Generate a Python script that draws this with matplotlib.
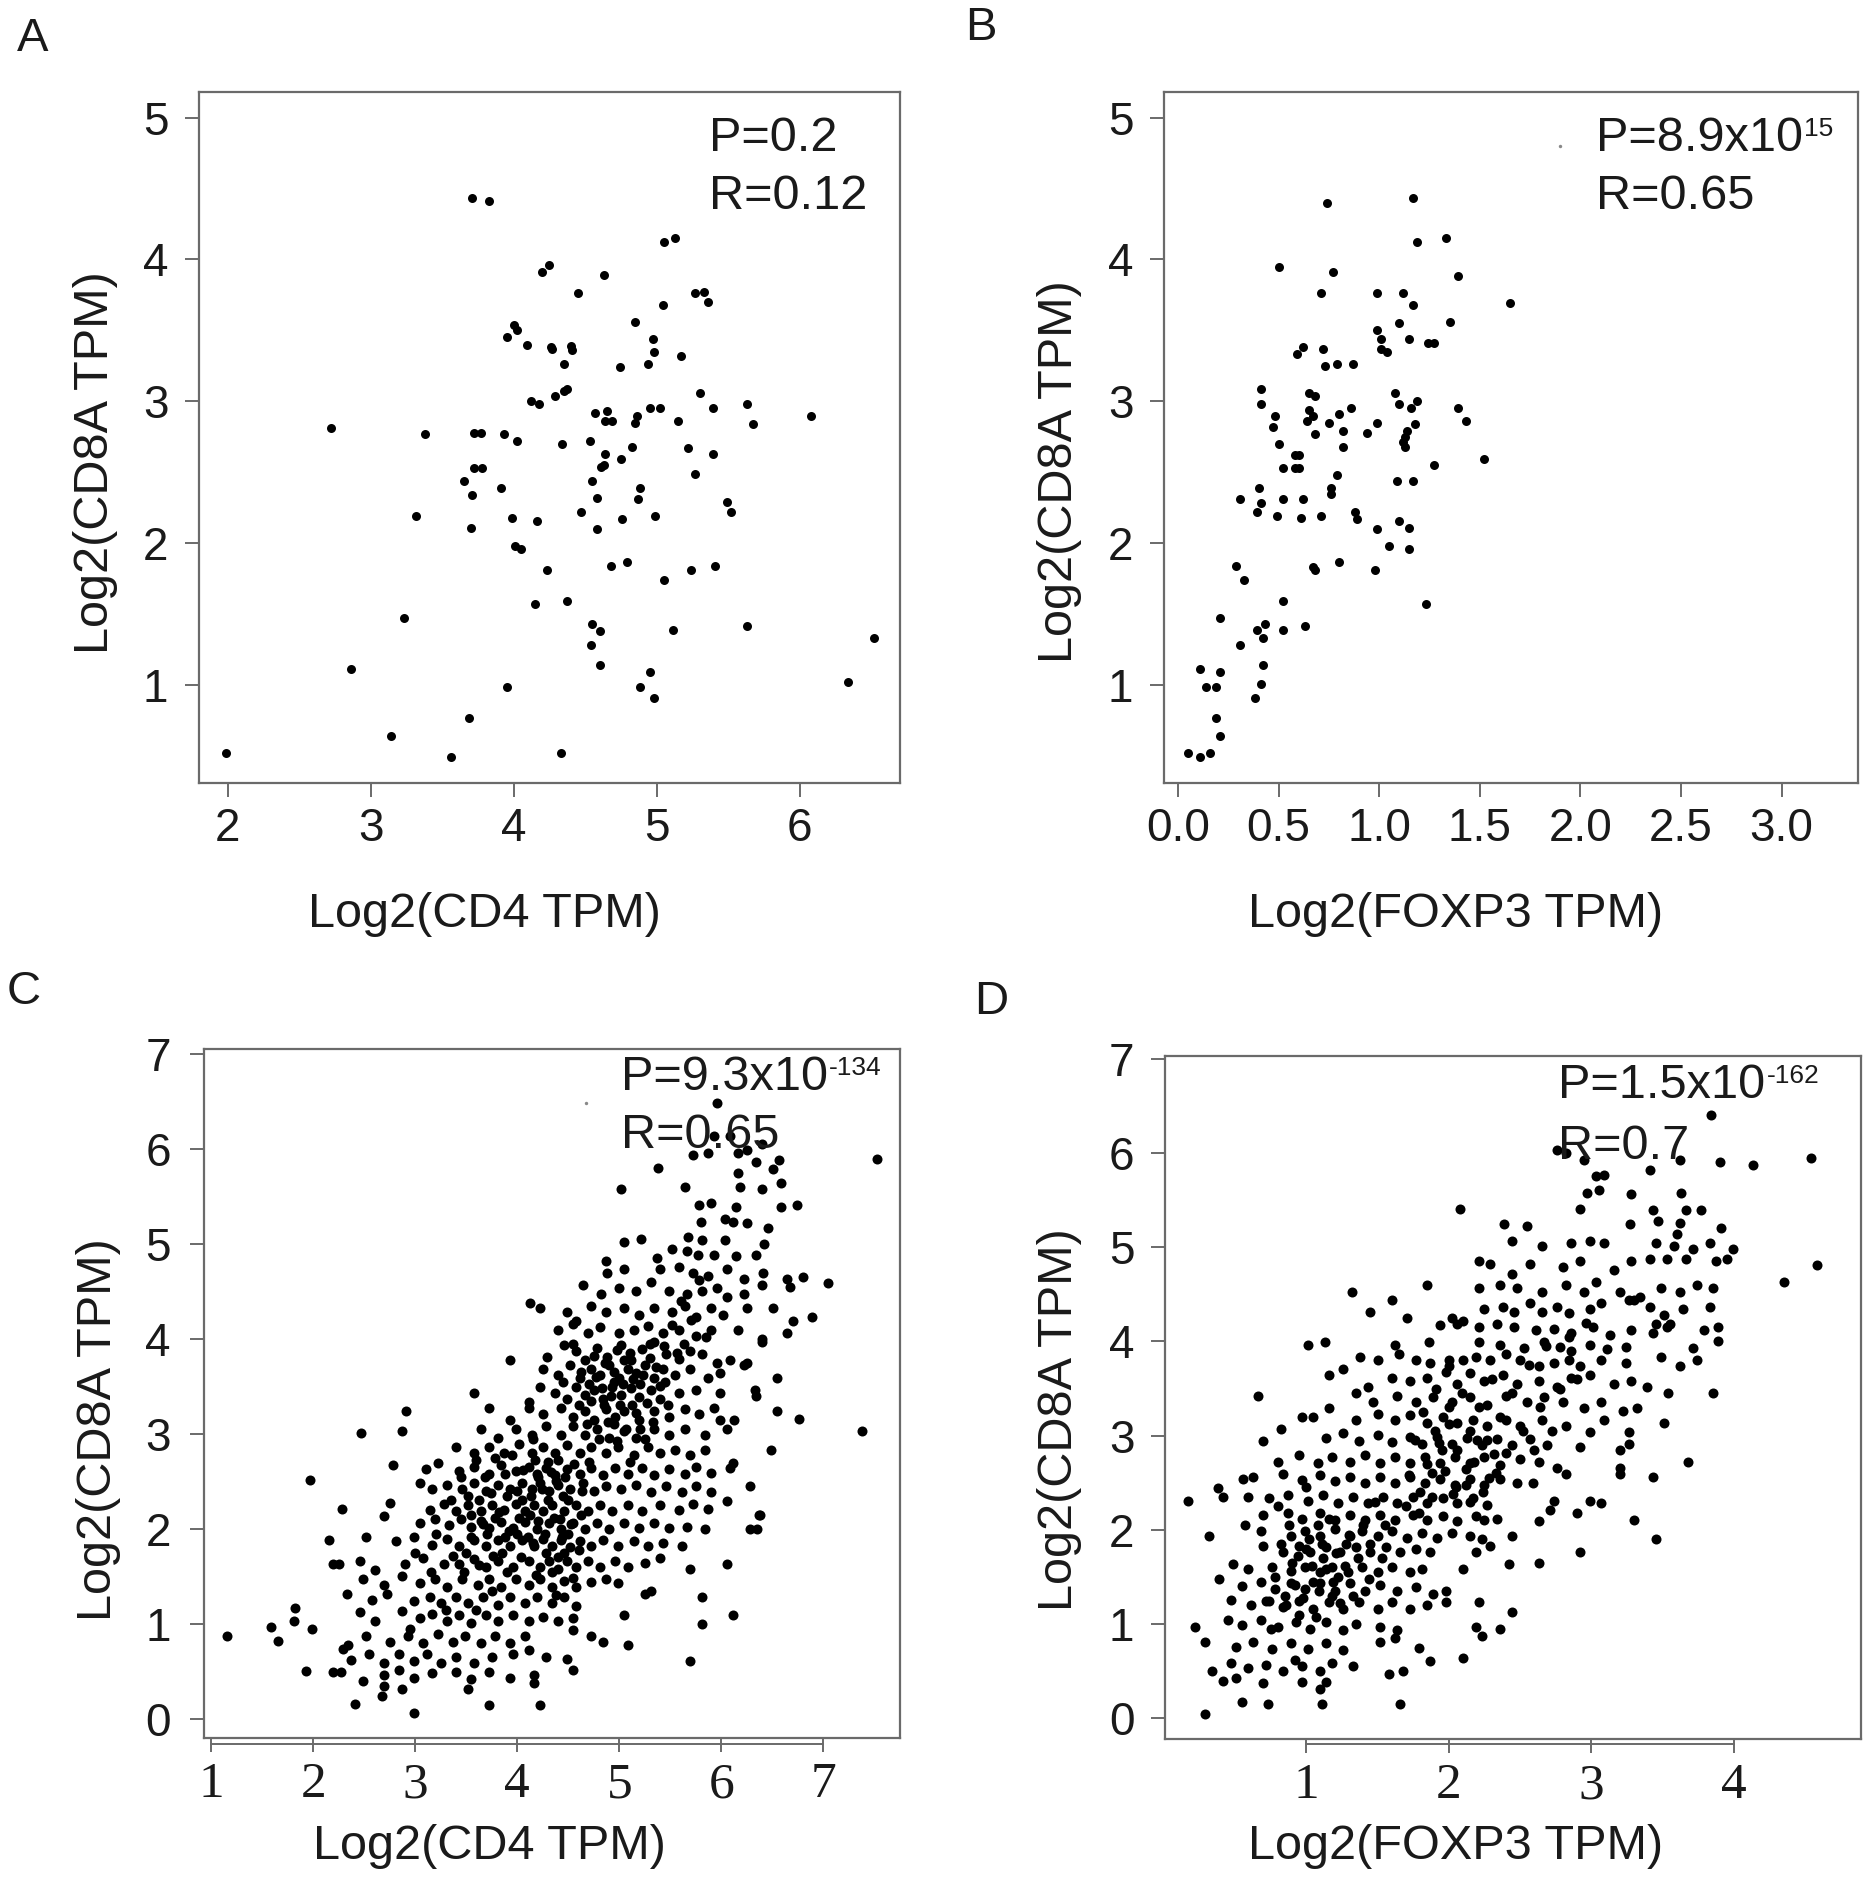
import numpy as np
import matplotlib
matplotlib.use('Agg')
import matplotlib.pyplot as plt
from matplotlib.ticker import FormatStrFormatter

plt.rcParams['font.family'] = ['Liberation Sans', 'DejaVu Sans']

W, H = 1873, 1893

# ---- data ----
# A: CD4 vs CD8A, small cohort
panel_a_points = np.array([
    (1.99, 0.52), (2.72, 2.81), (2.86, 1.11), (3.14, 0.64), (3.23, 1.47), (3.32, 2.19),
    (3.38, 2.77), (3.56, 0.49), (3.65, 2.44), (3.69, 0.77), (3.70, 2.11), (3.71, 2.34),
    (3.71, 4.43), (3.83, 4.41), (3.72, 2.78), (3.77, 2.78), (3.72, 2.53), (3.78, 2.53),
    (3.93, 2.77), (3.91, 2.39), (3.95, 0.99), (3.95, 3.45), (4.00, 3.54), (4.02, 3.50),
    (4.02, 2.72), (3.99, 2.18), (4.01, 1.98), (4.05, 1.96), (4.09, 3.40), (4.12, 3.00),
    (4.18, 2.98), (4.16, 2.16), (4.15, 1.57), (4.20, 3.91), (4.25, 3.96), (4.23, 1.81),
    (4.26, 3.38), (4.27, 3.37), (4.29, 3.04), (4.35, 3.07), (4.37, 3.09), (4.35, 3.26),
    (4.34, 2.70), (4.40, 3.39), (4.41, 3.36), (4.37, 1.59), (4.33, 0.52), (4.45, 3.76),
    (4.47, 2.22), (4.53, 2.72), (4.55, 2.44), (4.55, 1.43), (4.54, 1.28), (4.60, 1.38),
    (4.57, 2.92), (4.58, 2.32), (4.58, 2.10), (4.60, 1.14), (4.61, 2.54), (4.63, 2.55),
    (4.63, 3.89), (4.64, 2.86), (4.64, 2.63), (4.65, 2.93), (4.69, 2.86), (4.68, 1.84),
    (4.74, 3.24), (4.75, 2.59), (4.76, 2.17), (4.79, 1.87), (4.83, 2.68), (4.85, 3.56),
    (4.85, 2.85), (4.86, 2.90), (4.88, 2.39), (4.87, 2.31), (4.88, 0.99), (4.94, 3.26),
    (4.95, 1.09), (4.95, 2.95), (4.97, 3.44), (4.98, 3.35), (4.99, 2.19), (4.98, 0.91),
    (5.02, 2.95), (5.04, 3.68), (5.05, 4.12), (5.05, 1.74), (5.13, 4.15), (5.11, 1.39),
    (5.15, 2.86), (5.17, 3.32), (5.22, 2.67), (5.24, 1.81), (5.27, 3.76), (5.33, 3.77),
    (5.36, 3.70), (5.27, 2.49), (5.30, 3.06), (5.39, 2.95), (5.39, 2.63), (5.41, 1.84),
    (5.49, 2.29), (5.52, 2.22), (5.63, 2.98), (5.67, 2.84), (5.63, 1.42), (6.08, 2.90),
    (6.34, 1.02), (6.52, 1.33),
])

# B: FOXP3 vs CD8A, small cohort
panel_b_points = np.array([
    (0.05, 0.52), (0.11, 0.49), (0.16, 0.52), (0.11, 1.11), (0.14, 0.99), (0.19, 0.99),
    (0.21, 1.09), (0.19, 0.77), (0.21, 0.64), (0.21, 1.47), (0.29, 1.84), (0.33, 1.74),
    (0.31, 2.31), (0.31, 1.28), (0.38, 0.91), (0.39, 1.39), (0.41, 1.01), (0.42, 1.14),
    (0.42, 1.33), (0.43, 1.43), (0.39, 2.22), (0.40, 2.39), (0.41, 2.28), (0.41, 3.09),
    (0.41, 2.98), (0.50, 3.95), (0.48, 2.90), (0.47, 2.82), (0.50, 2.70), (0.49, 2.19),
    (0.52, 2.31), (0.52, 2.53), (0.52, 1.59), (0.52, 1.39), (0.59, 3.33), (0.62, 3.38),
    (0.58, 2.62), (0.60, 2.62), (0.58, 2.53), (0.60, 2.53), (0.62, 2.31), (0.61, 2.18),
    (0.63, 1.42), (0.64, 2.86), (0.65, 2.94), (0.65, 3.06), (0.68, 3.04), (0.67, 2.90),
    (0.68, 2.77), (0.67, 1.83), (0.68, 1.81), (0.71, 2.19), (0.71, 3.76), (0.72, 3.37),
    (0.73, 3.25), (0.74, 4.40), (0.76, 2.39), (0.76, 2.35), (0.75, 2.85), (0.77, 3.91),
    (0.79, 3.26), (0.79, 2.48), (0.80, 2.91), (0.80, 1.87), (0.82, 2.68), (0.82, 2.79),
    (0.87, 3.26), (0.86, 2.95), (0.88, 2.22), (0.89, 2.17), (0.94, 2.78), (0.98, 1.81),
    (0.99, 2.85), (0.99, 3.76), (0.99, 3.50), (0.99, 2.10), (1.01, 3.44), (1.01, 3.37),
    (1.04, 3.35), (1.05, 1.98), (1.08, 3.06), (1.10, 3.55), (1.10, 2.98), (1.09, 2.44),
    (1.10, 2.16), (1.12, 3.76), (1.12, 2.71), (1.13, 2.68), (1.13, 2.75), (1.14, 2.79),
    (1.15, 1.96), (1.15, 2.11), (1.15, 3.44), (1.17, 3.68), (1.17, 4.43), (1.17, 2.44),
    (1.16, 2.95), (1.18, 2.84), (1.19, 3.00), (1.19, 4.12), (1.23, 1.57), (1.24, 3.41),
    (1.27, 3.41), (1.27, 2.55), (1.33, 4.15), (1.35, 3.56), (1.39, 3.88), (1.39, 2.95),
    (1.43, 2.86), (1.52, 2.59), (1.65, 3.69),
])
panel_b_faint = np.array([(1.90, 4.80)])

# C: CD4 vs CD8A, large cohort
panel_c_points = np.array([
    (5.96, 6.48), (5.93, 6.13), (6.08, 6.13), (6.25, 5.99), (6.40, 6.05),
    (5.72, 5.93), (5.87, 5.96), (6.16, 5.96), (6.34, 5.86), (6.56, 5.88), (7.52, 5.89),
    (5.38, 5.80), (6.16, 5.75), (6.51, 5.79),
    (5.02, 5.58), (5.64, 5.60), (6.18, 5.60), (6.40, 5.58), (6.58, 5.64),
    (5.78, 5.41), (5.90, 5.43), (6.14, 5.39), (6.58, 5.39), (6.74, 5.41),
    (5.80, 5.23), (6.04, 5.26), (6.11, 5.23), (6.25, 5.22), (6.46, 5.17),
    (5.21, 5.05), (5.05, 5.02), (5.67, 5.07), (5.81, 5.04), (6.04, 5.04), (6.42, 5.00),
    (4.87, 4.82), (5.37, 4.85), (5.52, 4.95), (5.66, 4.92), (5.77, 4.88), (5.93, 4.88),
    (6.14, 4.87), (6.34, 4.88),
    (4.88, 4.69), (5.05, 4.73), (5.40, 4.73), (5.58, 4.76), (5.72, 4.69), (5.87, 4.66),
    (6.05, 4.73), (6.22, 4.63), (6.41, 4.69), (6.64, 4.63), (6.80, 4.65), (7.04, 4.59),
    (4.64, 4.57), (4.82, 4.47), (5.00, 4.54), (5.16, 4.50), (5.31, 4.60), (5.49, 4.50),
    (5.66, 4.47), (5.81, 4.50), (5.96, 4.54), (6.05, 4.44), (6.22, 4.47), (6.40, 4.57),
    (6.67, 4.55),
    (4.12, 4.38), (4.22, 4.32), (4.49, 4.28), (4.58, 4.19), (4.72, 4.35), (4.87, 4.28),
    (5.05, 4.32), (5.19, 4.25), (5.34, 4.32), (5.52, 4.28), (5.64, 4.35), (5.75, 4.23),
    (5.90, 4.32), (6.02, 4.25), (6.25, 4.32), (6.51, 4.32), (6.89, 4.23), (6.70, 4.19),
    (4.40, 4.09), (4.55, 4.16), (4.69, 4.06), (4.81, 4.13), (5.00, 4.06), (5.14, 4.09),
    (5.28, 4.14), (5.43, 4.06), (5.58, 4.09), (5.75, 4.03), (5.90, 4.09), (6.16, 4.09),
    (6.64, 4.06), (6.40, 4.00),
    (3.93, 3.78), (4.29, 3.81), (4.46, 3.94), (4.58, 3.87), (4.66, 3.78), (4.78, 3.90),
    (4.88, 3.81), (5.02, 3.94), (5.11, 3.78), (5.22, 3.89), (5.34, 3.97), (5.46, 3.84),
    (5.58, 3.79), (5.69, 3.87), (5.81, 3.84), (5.96, 3.75), (6.08, 3.78), (6.25, 3.75),
    (6.40, 3.97),
    (4.25, 3.68), (4.40, 3.62), (4.52, 3.72), (4.61, 3.59), (4.72, 3.68), (4.81, 3.62),
    (4.90, 3.72), (5.00, 3.59), (5.08, 3.68), (5.16, 3.64), (5.25, 3.72), (5.34, 3.59),
    (5.43, 3.68), (5.55, 3.62), (5.69, 3.68), (5.87, 3.59), (5.99, 3.64), (6.22, 3.72),
    (6.54, 3.59),
    (3.58, 3.43), (4.11, 3.34), (4.22, 3.49), (4.37, 3.43), (4.49, 3.37), (4.58, 3.49),
    (4.66, 3.41), (4.75, 3.46), (4.84, 3.37), (4.93, 3.49), (5.02, 3.41), (5.11, 3.48),
    (5.19, 3.39), (5.31, 3.46), (5.40, 3.37), (5.58, 3.43), (5.75, 3.46), (5.99, 3.43),
    (6.33, 3.46), (6.34, 3.40),
    (4.95, 3.55), (5.05, 3.78), (4.85, 3.30), (5.20, 3.52), (4.70, 3.52), (5.12, 3.30),
    (4.98, 3.88), (5.30, 3.80), (4.60, 3.30), (5.45, 3.55),
    (2.91, 3.24), (3.72, 3.27), (3.93, 3.15), (4.11, 3.27), (4.25, 3.21), (4.43, 3.27),
    (4.55, 3.18), (4.66, 3.24), (4.75, 3.15), (4.87, 3.26), (4.96, 3.18), (5.05, 3.24),
    (5.19, 3.15), (5.34, 3.24), (5.49, 3.18), (5.64, 3.26), (5.78, 3.21), (5.93, 3.27),
    (5.99, 3.15), (6.12, 3.15), (6.54, 3.24),
    (2.47, 3.01), (2.87, 3.03), (3.64, 3.05), (3.81, 2.96), (3.99, 3.05), (4.14, 2.99),
    (4.28, 3.08), (4.43, 2.99), (4.55, 3.08), (4.66, 2.99), (4.78, 3.05), (4.90, 2.96),
    (5.05, 3.03), (5.16, 2.96), (5.34, 3.05), (5.49, 2.99), (5.64, 3.05), (5.84, 2.99),
    (6.05, 3.05), (6.76, 3.16), (7.38, 3.03), (6.49, 2.83),
    (3.40, 2.86), (3.58, 2.80), (3.72, 2.86), (3.87, 2.80), (4.02, 2.89), (4.14, 2.80),
    (4.25, 2.86), (4.37, 2.80), (4.49, 2.88), (4.61, 2.80), (4.72, 2.86), (4.87, 2.80),
    (4.99, 2.86), (5.14, 2.78), (5.28, 2.86), (5.40, 2.80), (5.55, 2.83), (5.69, 2.78),
    (5.84, 2.83), (6.11, 2.69),
    (2.78, 2.67), (3.11, 2.63), (3.22, 2.69), (3.43, 2.61), (3.58, 2.65), (3.72, 2.58),
    (3.84, 2.67), (3.99, 2.61), (4.11, 2.65), (4.19, 2.58), (4.28, 2.64), (4.37, 2.57),
    (4.49, 2.63), (4.61, 2.58), (4.72, 2.64), (4.84, 2.57), (4.96, 2.64), (5.08, 2.58),
    (5.22, 2.64), (5.34, 2.57), (5.49, 2.63), (5.64, 2.58), (5.75, 2.65), (5.90, 2.59),
    (6.08, 2.64),
    (3.05, 2.48), (3.16, 2.42), (3.31, 2.46), (3.46, 2.42), (3.58, 2.48), (3.69, 2.40),
    (3.81, 2.46), (3.93, 2.42), (4.05, 2.48), (4.14, 2.42), (4.22, 2.48), (4.31, 2.40),
    (4.40, 2.46), (4.52, 2.42), (4.64, 2.48), (4.75, 2.40), (4.87, 2.45), (5.02, 2.42),
    (5.16, 2.46), (5.31, 2.39), (5.46, 2.45), (5.61, 2.39), (5.75, 2.45), (5.90, 2.39),
    (6.28, 2.45),
    (2.28, 2.21), (2.75, 2.27), (3.14, 2.20), (3.28, 2.26), (3.40, 2.19), (3.52, 2.25),
    (3.64, 2.19), (3.75, 2.25), (3.87, 2.20), (3.99, 2.26), (4.08, 2.19), (4.16, 2.25),
    (4.25, 2.19), (4.34, 2.25), (4.46, 2.19), (4.58, 2.25), (4.69, 2.19), (4.81, 2.25),
    (4.93, 2.19), (5.08, 2.25), (5.22, 2.19), (5.40, 2.25), (5.58, 2.20), (5.72, 2.26),
    (5.87, 2.21), (6.05, 2.29), (6.37, 2.15),
    (1.97, 2.52), (2.69, 2.14), (3.05, 2.06), (3.19, 2.10), (3.33, 2.04), (3.45, 2.10),
    (3.55, 2.02), (3.64, 2.08), (3.72, 2.01), (3.84, 2.07), (3.96, 2.01), (4.08, 2.07),
    (4.19, 2.00), (4.31, 2.06), (4.43, 2.00), (4.55, 2.06), (4.66, 2.00), (4.78, 2.06),
    (4.90, 2.00), (5.05, 2.06), (5.19, 2.01), (5.34, 2.06), (5.49, 2.01), (5.66, 2.02),
    (5.84, 2.00), (6.28, 2.00), (6.35, 2.00), (6.38, 2.15),
    (2.15, 1.88), (2.52, 1.91), (2.81, 1.87), (2.99, 1.91), (3.16, 1.83), (3.31, 1.89),
    (3.43, 1.82), (3.58, 1.88), (3.69, 1.82), (3.81, 1.88), (3.93, 1.82), (4.05, 1.88),
    (4.16, 1.82), (4.25, 1.89), (4.34, 1.82), (4.43, 1.88), (4.52, 1.81), (4.61, 1.87),
    (4.72, 1.82), (4.84, 1.88), (4.99, 1.82), (5.14, 1.87), (5.28, 1.82), (5.43, 1.85),
    (5.61, 1.82),
    (2.19, 1.63), (2.25, 1.63), (2.46, 1.66), (2.61, 1.57), (2.90, 1.63), (3.08, 1.69),
    (3.28, 1.63), (3.37, 1.71), (3.43, 1.63), (3.58, 1.68), (3.69, 1.60), (3.81, 1.66),
    (3.96, 1.60), (4.11, 1.66), (4.22, 1.60), (4.31, 1.66), (4.40, 1.58), (4.49, 1.66),
    (4.58, 1.60), (4.69, 1.66), (4.81, 1.60), (4.96, 1.66), (5.08, 1.60), (5.25, 1.64),
    (5.40, 1.69), (5.69, 1.58), (6.05, 1.63),
    (2.49, 1.47), (2.69, 1.41), (2.87, 1.50), (3.05, 1.43), (3.19, 1.47), (3.31, 1.39),
    (3.46, 1.47), (3.61, 1.41), (3.72, 1.47), (3.84, 1.39), (3.99, 1.47), (4.11, 1.41),
    (4.22, 1.47), (4.34, 1.39), (4.46, 1.45), (4.58, 1.39), (4.72, 1.44), (4.87, 1.47),
    (4.99, 1.43),
    (2.33, 1.31), (2.58, 1.25), (2.72, 1.31), (2.99, 1.24), (3.14, 1.28), (3.25, 1.22),
    (3.40, 1.28), (3.52, 1.22), (3.66, 1.28), (3.81, 1.20), (3.93, 1.28), (4.08, 1.22),
    (4.19, 1.28), (4.34, 1.22), (4.46, 1.28), (4.58, 1.19), (5.25, 1.31), (5.31, 1.35),
    (5.81, 1.28),
    (1.82, 1.17), (2.46, 1.13), (2.61, 1.03), (2.87, 1.14), (3.05, 1.06), (3.16, 1.11),
    (3.31, 1.03), (3.43, 1.09), (3.55, 1.01), (3.69, 1.09), (3.81, 1.03), (3.96, 1.09),
    (4.11, 1.03), (4.25, 1.07), (4.40, 1.03), (4.55, 1.06), (5.05, 1.09), (5.81, 1.00),
    (6.11, 1.09),
    (1.16, 0.87), (1.59, 0.97), (1.66, 0.82), (1.81, 1.03), (1.99, 0.95), (2.34, 0.78),
    (2.52, 0.87), (2.75, 0.81), (2.93, 0.87), (3.08, 0.80), (3.22, 0.89), (3.37, 0.81),
    (3.49, 0.87), (3.64, 0.80), (3.78, 0.87), (3.93, 0.80), (4.08, 0.87), (4.55, 0.94),
    (4.72, 0.87), (4.84, 0.81), (5.08, 0.78),
    (2.29, 0.74), (2.37, 0.62), (2.55, 0.68), (2.69, 0.59), (2.84, 0.68), (2.99, 0.61),
    (3.12, 0.68), (3.25, 0.59), (3.40, 0.65), (3.58, 0.59), (3.75, 0.65), (3.96, 0.68),
    (4.11, 0.73), (4.28, 0.65), (4.49, 0.63), (5.69, 0.61),
    (1.93, 0.51), (2.19, 0.49), (2.27, 0.49), (2.49, 0.40), (2.69, 0.46), (2.84, 0.52),
    (2.99, 0.43), (3.16, 0.48), (3.40, 0.49), (3.55, 0.42), (3.72, 0.49), (3.93, 0.43),
    (4.16, 0.46), (4.55, 0.52),
    (2.41, 0.16), (2.67, 0.24), (2.69, 0.35), (2.87, 0.32), (2.99, 0.06), (3.52, 0.32),
    (3.72, 0.15), (4.22, 0.15), (4.16, 0.38),
    (3.55, 2.15), (3.62, 2.30), (3.78, 2.12), (3.90, 2.35), (4.05, 2.30), (4.20, 2.55),
    (4.30, 2.70), (4.12, 2.15), (4.38, 2.50), (4.45, 2.35), (3.70, 1.95), (4.00, 1.95),
    (4.28, 1.75), (4.40, 1.70), (4.50, 1.95), (4.62, 2.15), (3.50, 1.75), (3.85, 1.75),
    (4.15, 2.95), (4.95, 3.10), (5.10, 2.70), (5.25, 2.95), (4.70, 2.70), (4.42, 2.10),
    (3.35, 2.30), (3.20, 1.95), (3.00, 1.75), (3.15, 1.55), (3.48, 1.55), (3.90, 1.55),
    (4.18, 1.52), (4.38, 1.30), (3.75, 1.35), (3.30, 1.15), (3.60, 1.15), (2.95, 0.95),
    (3.45, 2.55), (3.52, 2.35), (3.60, 2.72), (3.66, 2.05), (3.68, 2.55), (3.74, 2.38),
    (3.78, 2.75), (3.82, 2.18), (3.88, 2.58), (3.92, 1.98), (3.95, 2.78), (4.00, 2.40),
    (4.02, 2.12), (4.06, 2.62), (4.10, 1.92), (4.13, 2.35), (4.17, 2.72), (4.20, 2.08),
    (4.24, 2.42), (4.27, 1.95), (4.30, 2.30), (4.33, 2.60), (4.36, 2.12), (4.40, 2.72),
    (4.44, 1.92), (4.47, 2.55), (4.50, 2.30), (4.53, 2.05), (4.56, 2.68), (4.60, 1.78),
    (4.63, 2.40), (3.55, 1.92), (3.62, 1.62), (3.76, 1.72), (3.88, 1.92), (4.04, 1.70),
    (4.15, 1.85), (4.34, 1.55), (4.46, 1.75), (4.55, 1.48),
    (4.68, 3.10), (4.72, 3.35), (4.77, 3.60), (4.80, 2.95), (4.83, 3.48), (4.86, 3.75),
    (4.89, 3.12), (4.92, 3.40), (4.95, 3.65), (4.98, 2.92), (5.01, 3.30), (5.04, 3.52),
    (5.07, 3.05), (5.10, 3.85), (5.13, 3.58), (5.16, 3.22), (5.20, 3.05), (5.23, 3.62),
    (5.27, 3.33), (5.30, 3.95), (5.33, 3.12), (5.36, 3.70), (5.40, 3.50), (5.44, 3.92),
    (5.48, 3.30), (5.52, 4.15), (5.56, 3.85), (5.60, 4.40), (5.63, 3.95), (5.70, 4.20),
    (5.78, 4.62), (5.85, 4.02), (4.75, 3.82), (4.62, 3.65), (4.55, 3.95), (4.45, 3.55),
])
panel_c_faint = np.array([(4.67, 6.48)])

# D: FOXP3 vs CD8A, large cohort
panel_d_points = np.array([
    (3.84, 6.40), (2.76, 6.03), (2.82, 6.00), (2.95, 5.93), (3.03, 5.76), (3.09, 5.77),
    (3.41, 5.82), (3.62, 5.93), (3.90, 5.90), (4.13, 5.87), (4.54, 5.95),
    (2.97, 5.58), (3.05, 5.61), (3.28, 5.57), (3.63, 5.58), (2.92, 5.41), (2.08, 5.41),
    (3.43, 5.39), (3.66, 5.39), (3.77, 5.39),
    (2.39, 5.25), (2.55, 5.23), (3.27, 5.25), (3.47, 5.28), (3.62, 5.26), (3.91, 5.20),
    (3.60, 5.14),
    (2.44, 5.07), (2.65, 5.01), (2.86, 5.04), (2.99, 5.07), (3.09, 5.04), (3.45, 5.04),
    (3.58, 5.01), (3.71, 4.98), (3.99, 4.98), (3.83, 5.04),
    (2.21, 4.85), (2.29, 4.82), (2.44, 4.72), (2.57, 4.82), (2.80, 4.79), (2.92, 4.85),
    (3.16, 4.76), (3.28, 4.85), (3.41, 4.88), (3.53, 4.88), (3.66, 4.88), (3.87, 4.85),
    (3.95, 4.88), (4.58, 4.81),
    (1.32, 4.53), (1.60, 4.44), (1.85, 4.60), (2.21, 4.57), (2.36, 4.60), (2.48, 4.57),
    (2.65, 4.53), (2.82, 4.60), (2.95, 4.53), (3.03, 4.63), (3.20, 4.53), (3.34, 4.47),
    (3.49, 4.57), (3.62, 4.53), (3.74, 4.60), (3.85, 4.57), (4.35, 4.63),
    (1.45, 4.31), (1.71, 4.25), (2.02, 4.25), (2.10, 4.22), (2.25, 4.34), (2.38, 4.37),
    (2.46, 4.31), (2.57, 4.41), (2.65, 4.31), (2.76, 4.37), (2.84, 4.30), (2.99, 4.34),
    (3.07, 4.41), (3.26, 4.44), (3.30, 4.44), (3.41, 4.37), (3.51, 4.28), (3.64, 4.34),
    (3.83, 4.37),
    (1.94, 4.17), (2.06, 4.18), (2.21, 4.15), (2.34, 4.18), (2.46, 4.15), (2.61, 4.12),
    (2.74, 4.13), (2.86, 4.09), (3.01, 4.15), (3.13, 4.07), (3.28, 4.12), (3.45, 4.18),
    (3.55, 4.18), (3.79, 4.12), (3.89, 4.15),
    (1.01, 3.96), (1.13, 3.99), (1.62, 3.96), (1.86, 3.99), (2.00, 3.80), (2.21, 3.99),
    (2.36, 3.96), (2.53, 3.93), (2.67, 3.99), (2.78, 3.94), (2.86, 3.90), (2.99, 3.96),
    (3.11, 3.92), (3.24, 3.94), (3.43, 4.09), (3.53, 4.15), (3.89, 4.01),
    (1.38, 3.83), (1.50, 3.80), (1.65, 3.87), (1.77, 3.80), (1.87, 3.77), (2.00, 3.74),
    (2.10, 3.80), (2.19, 3.83), (2.29, 3.80), (2.40, 3.87), (2.50, 3.80), (2.63, 3.74),
    (2.74, 3.77), (2.84, 3.80), (2.92, 3.74), (3.07, 3.80), (3.24, 3.77), (3.49, 3.83),
    (3.62, 3.74), (3.74, 3.80), (3.71, 3.93),
    (1.16, 3.64), (1.26, 3.71), (1.43, 3.52), (1.60, 3.61), (1.73, 3.58), (1.85, 3.61),
    (1.98, 3.68), (2.06, 3.55), (2.15, 3.66), (2.25, 3.58), (2.38, 3.64), (2.48, 3.55),
    (2.63, 3.58), (2.76, 3.52), (2.86, 3.61), (2.99, 3.64), (3.16, 3.55), (3.28, 3.58),
    (3.39, 3.52), (3.54, 3.45), (3.85, 3.45),
    (1.35, 3.45), (1.47, 3.36), (1.64, 3.42), (1.77, 3.36), (1.89, 3.41), (2.02, 3.36),
    (2.15, 3.41), (2.27, 3.33), (2.40, 3.42), (2.55, 3.36), (2.67, 3.41), (2.80, 3.36),
    (2.95, 3.29), (3.07, 3.36), (3.22, 3.26), (3.32, 3.29),
    (0.66, 3.42), (1.05, 3.20), (1.16, 3.29), (1.35, 3.17), (1.50, 3.23), (1.62, 3.17),
    (1.73, 3.22), (1.85, 3.13), (1.96, 3.20), (2.06, 3.13), (2.17, 3.17), (2.27, 3.10),
    (2.40, 3.17), (2.50, 3.10), (2.65, 3.17), (2.82, 3.10), (2.99, 3.04), (3.09, 3.17),
    (3.26, 3.04), (3.51, 3.13),
    (0.82, 3.07), (0.97, 3.20), (1.14, 2.98), (1.26, 3.03), (1.37, 2.94), (1.50, 3.01),
    (1.60, 2.93), (1.73, 2.99), (1.81, 2.91), (1.92, 2.99), (2.02, 2.91), (2.13, 2.98),
    (2.23, 2.90), (2.34, 2.96), (2.44, 2.90), (2.57, 2.96), (2.69, 2.90), (2.92, 2.88),
    (3.20, 2.85), (3.26, 2.91),
    (0.70, 2.94), (0.80, 2.72), (0.95, 2.79), (1.08, 2.71), (1.18, 2.77), (1.31, 2.72),
    (1.41, 2.79), (1.52, 2.71), (1.62, 2.77), (1.73, 2.71), (1.83, 2.77), (1.94, 2.71),
    (2.04, 2.77), (2.15, 2.71), (2.25, 2.77), (2.36, 2.69), (2.50, 2.75), (2.63, 2.72),
    (2.76, 2.66), (3.68, 2.72),
    (0.56, 2.54), (0.63, 2.56), (0.84, 2.59), (0.97, 2.53), (1.10, 2.58), (1.20, 2.52),
    (1.31, 2.56), (1.41, 2.50), (1.52, 2.56), (1.62, 2.50), (1.73, 2.56), (1.83, 2.50),
    (1.94, 2.54), (2.04, 2.48), (2.15, 2.54), (2.25, 2.48), (2.36, 2.54), (2.59, 2.50),
    (2.82, 2.59), (3.20, 2.59), (3.43, 2.56),
    (0.38, 2.44), (0.42, 2.35), (0.59, 2.35), (0.74, 2.34), (0.87, 2.37), (1.01, 2.31),
    (1.12, 2.37), (1.22, 2.29), (1.33, 2.35), (1.43, 2.29), (1.54, 2.35), (1.64, 2.29),
    (1.75, 2.35), (1.85, 2.28), (1.96, 2.34), (2.06, 2.28), (2.17, 2.34), (2.27, 2.26),
    (2.74, 2.31), (2.99, 2.31), (3.07, 2.28), (3.20, 2.66),
    (0.17, 2.31), (0.70, 2.16), (0.87, 2.18), (0.97, 2.12), (1.10, 2.18), (1.20, 2.10),
    (1.31, 2.16), (1.41, 2.10), (1.52, 2.16), (1.62, 2.10), (1.75, 2.16), (1.85, 2.10),
    (1.96, 2.15), (2.06, 2.09), (2.19, 2.15), (2.34, 2.12), (2.90, 2.18), (2.71, 2.21),
    (0.32, 1.93), (0.57, 2.05), (0.68, 1.99), (0.89, 1.93), (0.99, 1.99), (1.10, 1.93),
    (1.20, 2.01), (1.31, 1.93), (1.39, 1.99), (1.50, 1.93), (1.60, 1.99), (1.71, 1.91),
    (1.81, 1.97), (1.92, 1.91), (2.02, 1.97), (2.15, 1.93), (2.23, 1.90), (2.44, 1.93),
    (2.63, 2.09), (3.30, 2.10), (3.45, 1.90),
    (0.70, 1.83), (0.84, 1.77), (0.95, 1.83), (1.03, 1.76), (1.14, 1.82), (1.24, 1.76),
    (1.35, 1.82), (1.45, 1.76), (1.56, 1.82), (1.66, 1.76), (1.77, 1.80), (1.87, 1.76),
    (2.19, 1.77), (2.29, 1.83), (2.92, 1.76),
    (0.49, 1.64), (0.59, 1.58), (0.76, 1.61), (0.89, 1.56), (0.99, 1.61), (1.10, 1.55),
    (1.18, 1.61), (1.29, 1.55), (1.39, 1.61), (1.50, 1.55), (1.60, 1.61), (1.73, 1.55),
    (1.81, 1.58), (2.10, 1.58), (2.42, 1.64), (2.63, 1.65),
    (0.39, 1.48), (0.55, 1.40), (0.68, 1.45), (0.78, 1.37), (0.89, 1.44), (0.99, 1.37),
    (1.10, 1.44), (1.20, 1.35), (1.31, 1.44), (1.41, 1.35), (1.52, 1.42), (1.64, 1.35),
    (1.77, 1.39), (1.98, 1.35), (1.89, 1.32),
    (0.47, 1.26), (0.61, 1.20), (0.74, 1.25), (0.84, 1.18), (0.95, 1.25), (1.05, 1.16),
    (1.16, 1.23), (1.26, 1.16), (1.37, 1.23), (1.50, 1.16), (1.60, 1.23), (1.73, 1.16),
    (1.85, 1.20), (1.98, 1.23), (2.21, 1.23), (2.44, 1.13),
    (0.22, 0.97), (0.45, 1.04), (0.55, 0.99), (0.68, 1.04), (0.80, 0.97), (0.93, 1.02),
    (1.03, 0.95), (1.14, 1.02), (1.26, 0.94), (1.35, 1.00), (1.52, 0.97), (1.64, 0.94),
    (2.19, 0.97), (2.36, 0.95),
    (0.29, 0.81), (0.51, 0.76), (0.63, 0.81), (0.76, 0.74), (0.89, 0.80), (1.01, 0.74),
    (1.14, 0.80), (1.26, 0.72), (1.52, 0.81), (1.62, 0.85), (1.79, 0.75), (2.23, 0.87),
    (0.34, 0.50), (0.47, 0.59), (0.59, 0.53), (0.72, 0.57), (0.84, 0.50), (0.97, 0.56),
    (1.10, 0.50), (1.18, 0.59), (1.33, 0.56), (1.58, 0.47), (1.68, 0.50), (1.87, 0.61),
    (2.10, 0.64),
    (0.42, 0.40), (0.51, 0.43), (0.70, 0.37), (0.97, 0.38), (1.14, 0.38), (0.55, 0.17),
    (0.73, 0.15), (1.11, 0.15), (0.29, 0.05), (1.66, 0.15), (1.10, 0.31),
    (0.90, 1.65), (1.00, 1.80), (1.05, 1.45), (1.12, 1.70), (1.22, 1.50), (1.28, 1.85),
    (0.85, 1.30), (0.95, 1.10), (1.18, 1.30), (1.08, 2.05), (1.88, 2.60), (1.95, 2.85),
    (2.05, 2.45), (2.12, 2.65), (2.20, 2.95), (2.28, 2.55), (1.80, 2.40), (1.90, 3.05),
    (2.00, 3.30), (1.70, 2.25), (2.15, 2.30), (2.25, 2.10), (2.32, 2.80), (1.55, 2.05),
    (1.45, 1.85),
    (0.78, 1.50), (0.82, 1.85), (0.86, 1.20), (0.88, 2.05), (0.92, 1.42), (0.94, 1.72),
    (0.98, 1.28), (1.02, 1.90), (1.04, 1.62), (1.07, 1.08), (1.09, 1.35), (1.11, 1.85),
    (1.14, 1.58), (1.16, 2.12), (1.19, 1.45), (1.21, 1.75), (1.24, 1.22), (1.27, 1.62),
    (1.30, 1.95), (1.33, 1.30), (1.36, 1.70), (1.40, 2.05), (1.44, 1.48), (1.48, 2.30),
    (1.53, 1.70), (0.72, 1.25), (0.75, 0.95), (0.80, 2.25), (1.00, 2.45), (0.92, 0.62),
    (1.72, 2.58), (1.76, 2.95), (1.79, 2.18), (1.82, 3.25), (1.85, 2.70), (1.88, 2.35),
    (1.91, 3.50), (1.93, 2.92), (1.97, 2.62), (2.00, 3.12), (2.03, 2.38), (2.06, 2.85),
    (2.09, 3.45), (2.12, 2.48), (2.15, 3.05), (2.18, 2.72), (2.21, 3.30), (2.24, 2.40),
    (2.27, 2.95), (2.30, 3.60), (2.33, 2.60), (2.36, 3.20), (2.40, 2.82), (2.44, 3.45),
    (2.48, 2.50), (2.52, 3.05), (2.56, 3.75), (2.60, 2.85), (2.64, 3.30), (2.68, 3.95),
    (2.72, 3.05), (2.78, 3.50), (2.84, 4.05), (2.90, 3.60), (2.96, 4.20),
])

# tick values
a_xticks = [2, 3, 4, 5, 6]
ab_yticks = [1, 2, 3, 4, 5]
b_xticks = [0.0, 0.5, 1.0, 1.5, 2.0, 2.5, 3.0]
c_xticks = [1, 2, 3, 4, 5, 6, 7]
cd_yticks = [0, 1, 2, 3, 4, 5, 6, 7]
d_xticks = [1, 2, 3, 4]

panels = [
    dict(letter='A', pts=panel_a_points, faint=None,
         box=(199, 92, 900, 783), xlim=(1.80, 6.70), ylim=(0.31, 5.18),
         xticks=a_xticks, yticks=ab_yticks, xfmt='%d',
         xlabel='Log2(CD4 TPM)', p=('P=0.2', ''), r='R=0.12',
         tx=0.727, py=0.933, ry=0.849, xlab=(0.407, -0.19), ylab=(-0.147, 0.463),
         lxy=(33, 39), serif=False, s=42, ypad=12, axline=False),
    dict(letter='B', pts=panel_b_points, faint=panel_b_faint,
         box=(1164, 92, 1858, 783), xlim=(-0.07, 3.38), ylim=(0.31, 5.18),
         xticks=b_xticks, yticks=ab_yticks, xfmt='%.1f',
         xlabel='Log2(FOXP3 TPM)', p=('P=8.9x10', '15'), r='R=0.65',
         tx=0.622, py=0.933, ry=0.849, xlab=(0.42, -0.19), ylab=(-0.151, 0.45),
         lxy=(981, 28), serif=False, s=42, ypad=12, axline=False),
    dict(letter='C', pts=panel_c_points, faint=panel_c_faint,
         box=(204, 1049, 900, 1738), xlim=(0.93, 7.75), ylim=(-0.20, 7.05),
         xticks=c_xticks, yticks=cd_yticks, xfmt='%d',
         xlabel='Log2(CD4 TPM)', p=('P=9.3x10', '-134'), r='R=0.65',
         tx=0.599, py=0.959, ry=0.874, xlab=(0.41, -0.157), ylab=(-0.151, 0.448),
         lxy=(24, 992), serif=True, s=52, ypad=14, axline=True),
    dict(letter='D', pts=panel_d_points, faint=None,
         box=(1165, 1056, 1861, 1739), xlim=(0.01, 4.89), ylim=(-0.22, 7.03),
         xticks=d_xticks, yticks=cd_yticks, xfmt='%d',
         xlabel='Log2(FOXP3 TPM)', p=('P=1.5x10', '-162'), r='R=0.7',
         tx=0.565, py=0.957, ry=0.868, xlab=(0.418, -0.157), ylab=(-0.152, 0.467),
         lxy=(991, 1002), serif=True, s=52, ypad=12, axline=True),
]

fig = plt.figure(figsize=(W / 100, H / 100), dpi=100)
fig.patch.set_facecolor('white')

spine_col = '#6a6a6a'
text_col = '#1a1a1a'
lab_size = 35
tick_size = 33
pr_size = 35

for pn in panels:
    x0, y0, x1, y1 = pn['box']
    ax = fig.add_axes([x0 / W, 1 - y1 / H, (x1 - x0) / W, (y1 - y0) / H])
    pts = pn['pts']
    ax.scatter(pts[:, 0], pts[:, 1], s=pn['s'], c='black', linewidths=0, zorder=3)
    if pn['faint'] is not None:
        ax.scatter(pn['faint'][:, 0], pn['faint'][:, 1], s=6, c='#888888',
                   linewidths=0, zorder=3)
    ax.set_xlim(*pn['xlim'])
    ax.set_ylim(*pn['ylim'])
    ax.set_xticks(pn['xticks'])
    ax.set_yticks(pn['yticks'])
    ax.xaxis.set_major_formatter(FormatStrFormatter(pn['xfmt']))
    for sp in ax.spines.values():
        sp.set_color(spine_col)
        sp.set_linewidth(1.6)
    ax.tick_params(axis='both', direction='out', length=10, width=1.4,
                   color=spine_col, labelcolor=text_col, labelsize=tick_size)
    ax.tick_params(axis='y', pad=pn['ypad'])
    ax.tick_params(axis='x', pad=7)
    if pn['serif']:
        for lab in ax.get_xticklabels():
            lab.set_family(['Liberation Serif', 'DejaVu Serif'])
            lab.set_fontsize(37)
    if pn['axline']:
        # separate x axis line just under the box, from first to last tick
        ax.plot([pn['xticks'][0], pn['xticks'][-1]], [-0.008, -0.008],
                transform=ax.get_xaxis_transform(), color=spine_col, lw=1.4,
                clip_on=False, zorder=2)

    ax.set_xlabel(pn['xlabel'], fontsize=lab_size, color=text_col, va='center')
    ax.set_ylabel('Log2(CD8A TPM)', fontsize=lab_size, color=text_col, va='center')
    ax.xaxis.set_label_coords(*pn['xlab'])
    ax.yaxis.set_label_coords(*pn['ylab'])

    base, sup = pn['p']
    t = ax.text(pn['tx'], pn['py'], base, transform=ax.transAxes, fontsize=pr_size,
                color=text_col, ha='left', va='center', zorder=4)
    if sup:
        ax.annotate(sup, xy=(1.0, 1.0), xycoords=t, xytext=(1, -1),
                    textcoords='offset points', fontsize=19, color=text_col,
                    ha='left', va='top', zorder=4)
    ax.text(pn['tx'], pn['ry'], pn['r'], transform=ax.transAxes, fontsize=pr_size,
            color=text_col, ha='left', va='center', zorder=4)

    lx, ly = pn['lxy']
    fig.text(lx / W, 1 - ly / H, pn['letter'], fontsize=34, color=text_col,
             ha='center', va='center')

fig.savefig('out.png', dpi=100, facecolor='white')
